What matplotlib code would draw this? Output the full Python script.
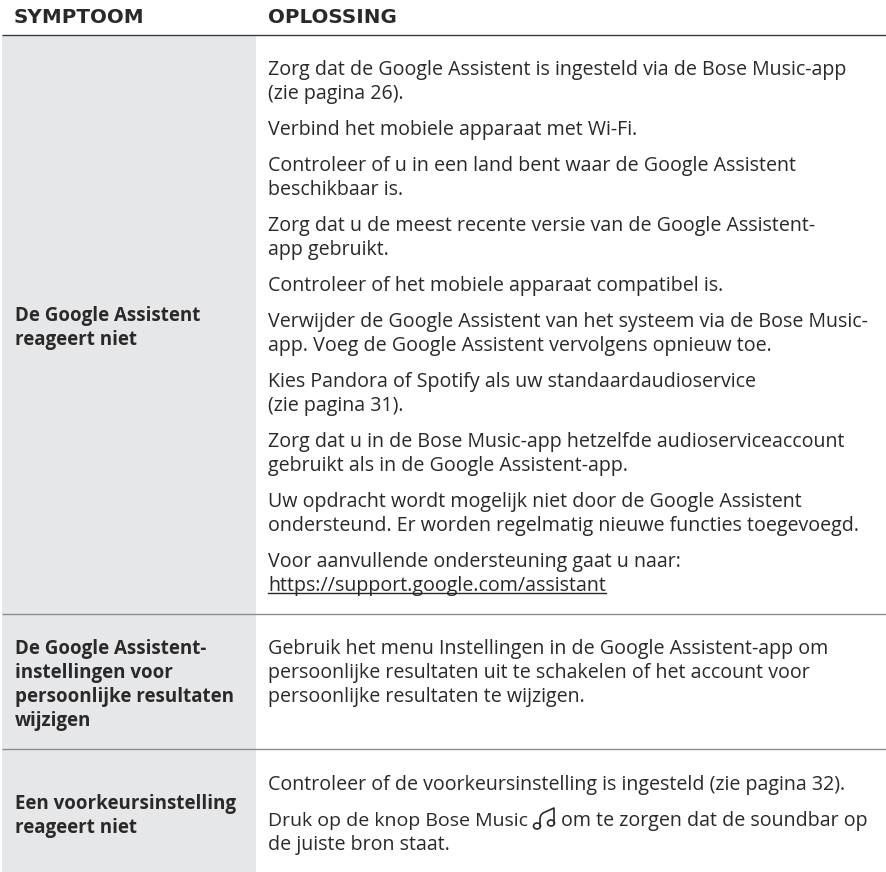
import matplotlib
matplotlib.use("Agg")
import matplotlib.pyplot as plt
from matplotlib.patches import Rectangle, Ellipse

plt.rcParams['font.family'] = ['Open Sans', 'DejaVu Sans']

headers = ["SYMPTOOM", "OPLOSSING"]

symptoms = [
    ["De Google Assistent", "reageert niet"],
    ["De Google Assistent-", "instellingen voor", "persoonlijke resultaten", "wijzigen"],
    ["Een voorkeursinstelling", "reageert niet"],
]

solutions = [
    [
        ["Zorg dat de Google Assistent is ingesteld via de Bose Music-app", "(zie pagina 26)."],
        ["Verbind het mobiele apparaat met Wi-Fi."],
        ["Controleer of u in een land bent waar de Google Assistent", "beschikbaar is."],
        ["Zorg dat u de meest recente versie van de Google Assistent-", "app gebruikt."],
        ["Controleer of het mobiele apparaat compatibel is."],
        ["Verwijder de Google Assistent van het systeem via de Bose Music-", "app. Voeg de Google Assistent vervolgens opnieuw toe."],
        ["Kies Pandora of Spotify als uw standaardaudioservice", "(zie pagina 31)."],
        ["Zorg dat u in de Bose Music-app hetzelfde audioserviceaccount", "gebruikt als in de Google Assistent-app."],
        ["Uw opdracht wordt mogelijk niet door de Google Assistent", "ondersteund. Er worden regelmatig nieuwe functies toegevoegd."],
        ["Voor aanvullende ondersteuning gaat u naar:", "https://support.google.com/assistant"],
    ],
    [
        ["Gebruik het menu Instellingen in de Google Assistent-app om", "persoonlijke resultaten uit te schakelen of het account voor", "persoonlijke resultaten te wijzigen."],
    ],
    [
        ["Controleer of de voorkeursinstelling is ingesteld (zie pagina 32)."],
        ["Druk op de knop Bose Music|om te zorgen dat de soundbar op", "de juiste bron staat."],
    ],
]

W, H = 886, 872
text_col = "#2b2829"
gray = "#e6e7e8"
rule_col = "#8a8c8e"
col1_x = 15
col2_x = 268
gray_x0, gray_x1 = 2, 256
header_rule = 35
row_rules = [614, 749]
symptom_start = [321, 654, 809]
solution_start = [75, 654, 790]
line_h = 24
para_gap = 12
font_body = 14.1
font_bold = 13.5
font_head = 14.3


def draw_note(ax, x, y):
    # bose music icon, x/y = left note head centre
    ax.add_patch(Ellipse((x, y), 7, 6, fill=False, ec=text_col, lw=1.2))
    ax.add_patch(Ellipse((x + 14, y - 3), 7, 6, fill=False, ec=text_col, lw=1.2))
    ax.plot([x + 3, x + 3, x + 4, x + 6, x + 17, x + 17],
            [y, y - 8, y - 11, y - 13, y - 18, y - 3], color=text_col, lw=1.2)


fig = plt.figure(figsize=(W / 100, H / 100), dpi=100)
ax = fig.add_axes([0, 0, 1, 1])
ax.set_xlim(0, W)
ax.set_ylim(H, 0)
ax.axis("off")

ax.add_patch(Rectangle((gray_x0, header_rule), gray_x1 - gray_x0, H - header_rule, color=gray, lw=0))
ax.plot([gray_x0, W], [header_rule, header_rule], color="#3a3a3c", lw=1.0, solid_capstyle="butt")
for y in row_rules:
    ax.plot([gray_x0, W], [y, y], color=rule_col, lw=1.0, solid_capstyle="butt")

ax.text(14, 23, headers[0], fontsize=font_head, fontweight="bold", family="DejaVu Sans", color=text_col, va="baseline")
ax.text(col2_x, 23, headers[1], fontsize=font_head, fontweight="bold", family="DejaVu Sans", color=text_col, va="baseline")

for i in range(3):
    y = symptom_start[i]
    for line in symptoms[i]:
        ax.text(col1_x, y, line, fontsize=font_bold, fontweight="bold", color=text_col, va="baseline")
        y += line_h

    y = solution_start[i]
    for p in solutions[i]:
        for line in p:
            if "|" in line:
                left, right = line.split("|")
                ax.text(col2_x, y, left, fontsize=font_body - 0.1, color=text_col, va="baseline")
                draw_note(ax, 537, y)
                ax.text(561, y, right, fontsize=font_body, color=text_col, va="baseline")
            else:
                t = ax.text(col2_x, y, line, fontsize=font_body, color=text_col, va="baseline")
                if line.startswith("https"):
                    fig.canvas.draw()
                    bb = t.get_window_extent()
                    ax.plot([col2_x, col2_x + bb.width], [y + 2, y + 2], color=text_col, lw=1.0)
            y += line_h
        y += para_gap

fig.savefig("out.png", dpi=100)
